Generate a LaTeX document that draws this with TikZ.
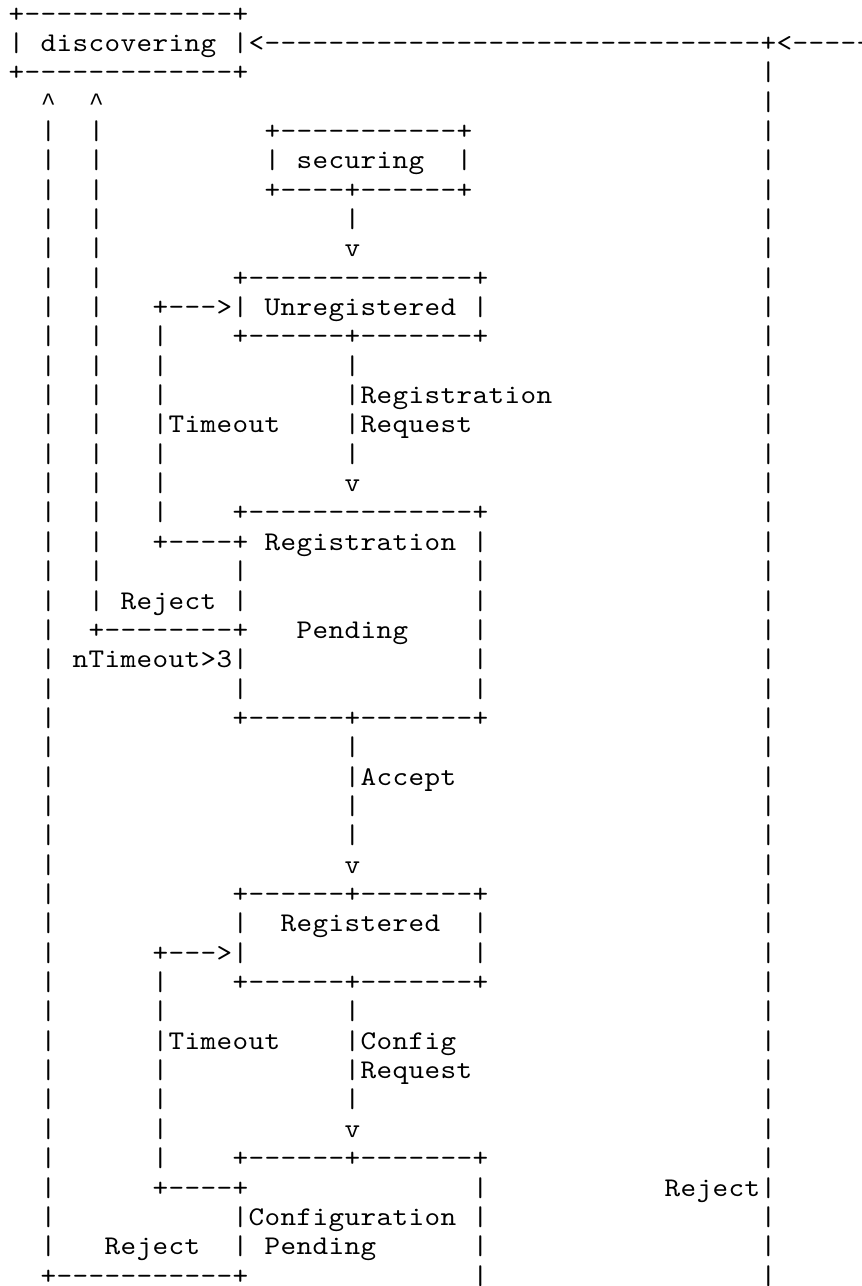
\documentclass[tikz,border=0pt]{standalone}
\usepackage{fontspec}
% Typewriter face, widened slightly so the glyphs fill their cells.
\newfontfamily\gridfont[FakeStretch=1.1]{lmmono10-regular.otf}
% Chevron-shaped caret for the upward arrow heads.
\newfontfamily\caretfont{Liberation Mono}
% Character-grid drawing: every glyph sits in a fixed 16pt cell.
\newlength\cellw
\setlength\cellw{16pt}
\makeatletter
\def\grid@caret{\textasciicircum}
\newcommand\gridcells[1]{\@tfor\grid@c:=#1\do{\makebox[\cellw][c]{%
  \ifx\grid@c\grid@caret{\caretfont\fontsize{25pt}{29pt}\selectfont\textasciicircum}%
  \else\grid@c\fi}}}
\makeatother
\newcommand\gridat[2]{\rlap{\hspace*{#1\cellw}\gridcells{#2}}}
\newcommand\gridbars[1]{\foreach \gcol in {#1}{\gridat{\gcol}{|}}}
\tikzset{
  gridline/.style={anchor=base west, inner sep=0pt, outer sep=0pt,
    font=\gridfont\fontsize{27pt}{29pt}\selectfont}
}
\newcommand\gridrow[2]{\node[gridline] (row#1) at (8,{-22-29.35*#1}) {#2};}
\begin{document}
\begin{tikzpicture}[x=1pt,y=1pt]
\path[use as bounding box, fill=white] (0,0) rectangle (862,-1286);
\clip (0,0) rectangle (862,-1286);
\gridrow{0}{\gridat{0}{+-------------+}}
\gridrow{1}{\gridat{0}{|}\gridat{2}{discovering}\gridat{14}{|<-------------------------------+<-----}}
\gridrow{2}{\gridat{0}{+-------------+}\gridat{47}{|}}
\gridrow{3}{\gridat{2}{\textasciicircum}\gridat{5}{\textasciicircum}\gridat{47}{|}}
\gridrow{4}{\gridbars{2,5,47}\gridat{16}{+-----------+}}
\gridrow{5}{\gridbars{2,5,16,28,47}\gridat{18}{securing}}
\gridrow{6}{\gridbars{2,5,47}\gridat{16}{+----+------+}}
\gridrow{7}{\gridbars{2,5,21,47}}
\gridrow{8}{\gridbars{2,5,47}\gridat{21}{v}}
\gridrow{9}{\gridbars{2,5,47}\gridat{14}{+--------------+}}
\gridrow{10}{\gridbars{2,5,47}\gridat{9}{+--->|}\gridat{16}{Unregistered}\gridat{29}{|}}
\gridrow{11}{\gridbars{2,5,9,47}\gridat{14}{+------+-------+}}
\gridrow{12}{\gridbars{2,5,9,21,47}}
\gridrow{13}{\gridbars{2,5,9,47}\gridat{21}{|Registration}}
\gridrow{14}{\gridbars{2,5,47}\gridat{9}{|Timeout}\gridat{21}{|Request}}
\gridrow{15}{\gridbars{2,5,9,21,47}}
\gridrow{16}{\gridbars{2,5,9,47}\gridat{21}{v}}
\gridrow{17}{\gridbars{2,5,9,47}\gridat{14}{+--------------+}}
\gridrow{18}{\gridbars{2,5,47}\gridat{9}{+----+}\gridat{16}{Registration}\gridat{29}{|}}
\gridrow{19}{\gridbars{2,5,14,29,47}}
\gridrow{20}{\gridbars{2,5,14,29,47}\gridat{7}{Reject}}
\gridrow{21}{\gridbars{2,29,47}\gridat{5}{+--------+}\gridat{18}{Pending}}
\gridrow{22}{\gridbars{2,29,47}\gridat{4}{nTimeout>3|}}
\gridrow{23}{\gridbars{2,14,29,47}}
\gridrow{24}{\gridbars{2,47}\gridat{14}{+------+-------+}}
\gridrow{25}{\gridbars{2,21,47}}
\gridrow{26}{\gridbars{2,47}\gridat{21}{|Accept}}
\gridrow{27}{\gridbars{2,21,47}}
\gridrow{28}{\gridbars{2,21,47}}
\gridrow{29}{\gridbars{2,47}\gridat{21}{v}}
\gridrow{30}{\gridbars{2,47}\gridat{14}{+------+-------+}}
\gridrow{31}{\gridbars{2,14,29,47}\gridat{17}{Registered}}
\gridrow{32}{\gridbars{2,29,47}\gridat{9}{+--->|}}
\gridrow{33}{\gridbars{2,9,47}\gridat{14}{+------+-------+}}
\gridrow{34}{\gridbars{2,9,21,47}}
\gridrow{35}{\gridbars{2,47}\gridat{9}{|Timeout}\gridat{21}{|Config}}
\gridrow{36}{\gridbars{2,9,47}\gridat{21}{|Request}}
\gridrow{37}{\gridbars{2,9,21,47}}
\gridrow{38}{\gridbars{2,9,47}\gridat{21}{v}}
\gridrow{39}{\gridbars{2,9,47}\gridat{14}{+------+-------+}}
\gridrow{40}{\gridbars{2,29,47}\gridat{9}{+----+}\gridat{41}{Reject}}
\gridrow{41}{\gridbars{2,14,29,47}\gridat{15}{Configuration}}
\gridrow{42}{\gridbars{2,14,29,47}\gridat{6}{Reject}\gridat{16}{Pending}}
\gridrow{43}{\gridbars{29,47}\gridat{2}{+-----------+}}
\end{tikzpicture}
\end{document}
